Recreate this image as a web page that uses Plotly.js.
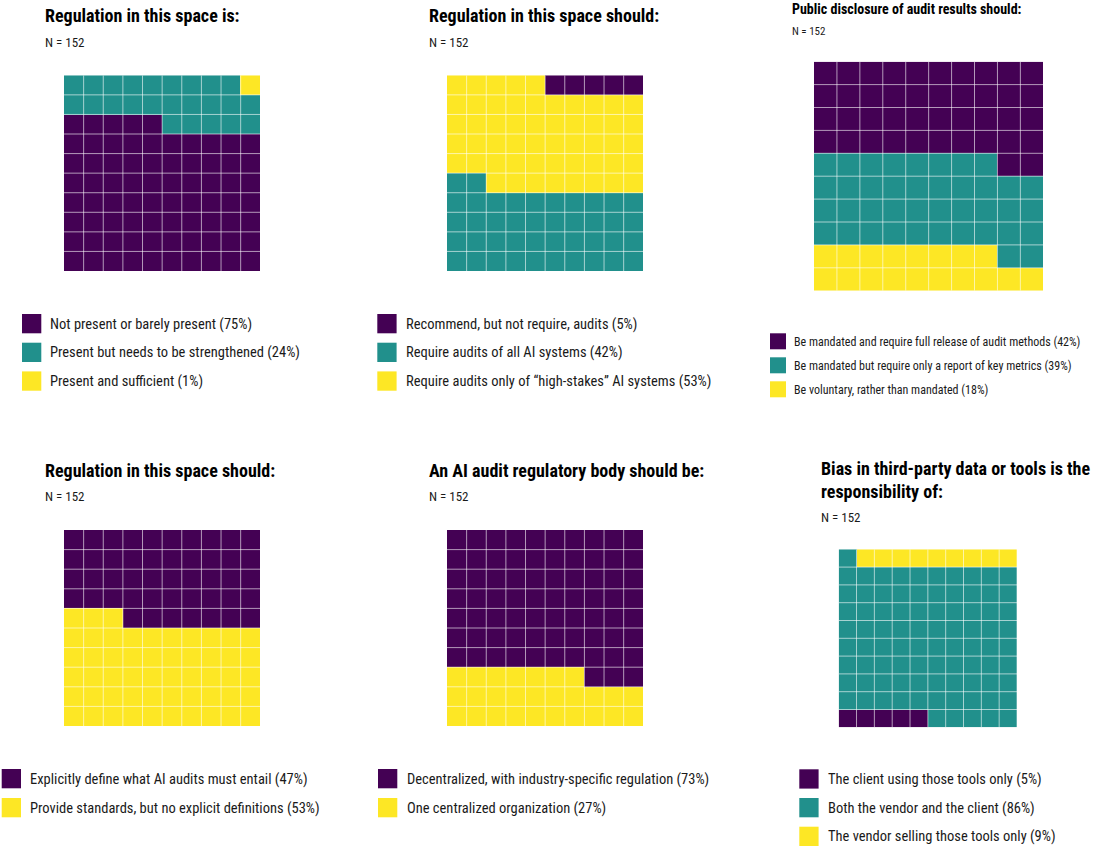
<!DOCTYPE html>
<html>
<head>
<meta charset="utf-8">
<script src="https://cdn.plot.ly/plotly-3.0.1.min.js"></script>
<style>html,body{margin:0;padding:0;background:#fff;}#chart{width:1102px;height:856px;}</style>
</head>
<body>
<div id="chart"></div>
<script>
// ---------------- DATA ----------------
const sampleN = 152;

const title1 = ["Regulation in this space is:"];
const labels1 = ["Not present or barely present", "Present but needs to be strengthened", "Present and sufficient"];
const pct1 = [75, 24, 1];
const cells1 = [75, 24, 1];
const fillOrder1 = [0, 1, 2];
const colorIdx1 = [0, 1, 2];

const title2 = ["Regulation in this space should:"];
const labels2 = ["Recommend, but not require, audits", "Require audits of all AI systems", "Require audits only of \u201chigh-stakes\u201d AI systems"];
const pct2 = [5, 42, 53];
const cells2 = [5, 42, 53];
const fillOrder2 = [1, 2, 0];
const colorIdx2 = [0, 1, 2];

const title3 = ["Public disclosure of audit results should:"];
const labels3 = ["Be mandated and require full release of audit methods", "Be mandated but require only a report of key metrics", "Be voluntary, rather than mandated"];
const pct3 = [42, 39, 18];
const cells3 = [42, 40, 18];
const fillOrder3 = [2, 1, 0];
const colorIdx3 = [0, 1, 2];

const title4 = ["Regulation in this space should:"];
const labels4 = ["Explicitly define what AI audits must entail", "Provide standards, but no explicit definitions"];
const pct4 = [47, 53];
const cells4 = [47, 53];
const fillOrder4 = [1, 0];
const colorIdx4 = [0, 2];

const title5 = ["An AI audit regulatory body should be:"];
const labels5 = ["Decentralized, with industry-specific regulation", "One centralized organization"];
const pct5 = [73, 27];
const cells5 = [73, 27];
const fillOrder5 = [1, 0];
const colorIdx5 = [0, 2];

const title6 = ["Bias in third-party data or tools is the", "responsibility of:"];
const labels6 = ["The client using those tools only", "Both the vendor and the client", "The vendor selling those tools only"];
const pct6 = [5, 86, 9];
const cells6 = [5, 86, 9];
const fillOrder6 = [0, 1, 2];
const colorIdx6 = [0, 1, 2];

const palette = ["#440154", "#21908C", "#FDE725"];

// ---------------- LAYOUT GEOMETRY (pixels) ----------------
const W = 1102, H = 856;
const FONT = "'Roboto Condensed', 'Liberation Sans Narrow', 'DejaVu Sans Condensed', Roboto, sans-serif";

const panels = [
  {title: title1, labels: labels1, pct: pct1, cells: cells1, order: fillOrder1, cidx: colorIdx1,
   grid: [64, 75.3, 260.3, 271], tx: 44, tY: 15.5, nY: 42.5, tSize: 18, nSize: 13,
   lgX: 22, lgY: 314, lgSq: 19.3, lgPitch: 28.7, lgTx: 49.3, lgSize: 14.5},
  {title: title2, labels: labels2, pct: pct2, cells: cells2, order: fillOrder2, cidx: colorIdx2,
   grid: [447, 75.3, 643.3, 271], tx: 427.5, tY: 15.5, nY: 42.5, tSize: 18, nSize: 13,
   lgX: 377.3, lgY: 314, lgSq: 19.3, lgPitch: 28.7, lgTx: 405, lgSize: 14.5},
  {title: title3, labels: labels3, pct: pct3, cells: cells3, order: fillOrder3, cidx: colorIdx3,
   grid: [814, 61.7, 1043.3, 290.7], tx: 790.7, tY: 9, nY: 31.3, tSize: 14, nSize: 11,
   lgX: 770, lgY: 333.3, lgSq: 16, lgPitch: 24, lgTx: 792.7, lgSize: 12},
  {title: title4, labels: labels4, pct: pct4, cells: cells4, order: fillOrder4, cidx: colorIdx4,
   grid: [64, 530, 260.3, 726], tx: 44, tY: 470.3, nY: 496.8, tSize: 18, nSize: 13,
   lgX: 1.7, lgY: 769, lgSq: 19.3, lgPitch: 29, lgTx: 29.3, lgSize: 14.5},
  {title: title5, labels: labels5, pct: pct5, cells: cells5, order: fillOrder5, cidx: colorIdx5,
   grid: [447, 530, 643.3, 726], tx: 427.5, tY: 470.3, nY: 496.8, tSize: 18, nSize: 13,
   lgX: 378, lgY: 769, lgSq: 19.3, lgPitch: 29, lgTx: 406, lgSize: 14.5},
  {title: title6, labels: labels6, pct: pct6, cells: cells6, order: fillOrder6, cidx: colorIdx6,
   grid: [838.7, 549.3, 1017, 727.3], tx: 820, tY: 480, nY: 517.8, tSize: 18, nSize: 13,
   lgX: 799.3, lgY: 769.3, lgSq: 19.3, lgPitch: 28.7, lgTx: 827.3, lgSize: 14.5}
];

const px = x => x / W;
const py = y => 1 - y / H;

function buildZ(cells, order, cidx) {
  const seq = [];
  order.forEach(i => { for (let k = 0; k < cells[i]; k++) seq.push(cidx[i]); });
  const z = [];
  for (let r = 0; r < 10; r++) {
    const row = [];
    for (let c = 0; c < 10; c++) {
      const v = seq[r * 10 + c];
      row.push(v === undefined ? null : v);
    }
    z.push(row);
  }
  return z;
}

const idx = [0,1,2,3,4,5,6,7,8,9];
const traces = [];
const layout = {
  width: W, height: H,
  margin: {l: 0, r: 0, t: 0, b: 0},
  paper_bgcolor: "#ffffff", plot_bgcolor: "#ffffff",
  showlegend: false,
  font: {family: FONT, color: "#1a1a1a"},
  annotations: [], shapes: []
};

panels.forEach((p, k) => {
  const n = k + 1;
  const xa = "x" + (n === 1 ? "" : n), ya = "y" + (n === 1 ? "" : n);
  const xKey = "xaxis" + (n === 1 ? "" : n), yKey = "yaxis" + (n === 1 ? "" : n);
  traces.push({
    type: "heatmap", x: idx, y: idx, z: buildZ(p.cells, p.order, p.cidx),
    xaxis: xa, yaxis: ya, zmin: 0, zmax: 2, showscale: false, hoverinfo: "skip",
    colorscale: [[0, palette[0]], [0.5, palette[1]], [1, palette[2]]]
  });
  const axBase = {range: [-0.5, 9.5], showgrid: false, zeroline: false, showticklabels: false,
                  ticks: "", showline: false, fixedrange: true};
  layout[xKey] = Object.assign({}, axBase, {domain: [px(p.grid[0]), px(p.grid[2])], anchor: ya});
  layout[yKey] = Object.assign({}, axBase, {domain: [py(p.grid[3]), py(p.grid[1])], anchor: xa});

  // cell separators
  for (let g = 0; g < 9; g++) {
    const v = g + 0.5;
    layout.shapes.push({type: "line", xref: xa, yref: ya, x0: v, x1: v, y0: -0.5, y1: 9.5,
      line: {color: "rgba(255,255,255,0.6)", width: 1}, layer: "above"});
    layout.shapes.push({type: "line", xref: xa, yref: ya, x0: -0.5, x1: 9.5, y0: v, y1: v,
      line: {color: "rgba(255,255,255,0.6)", width: 1}, layer: "above"});
  }

  // title
  layout.annotations.push({text: p.title.join("<br>"), xref: "paper", yref: "paper", x: px(p.tx), y: py(p.tY),
    xanchor: "left", yanchor: "middle", align: "left", showarrow: false, borderpad: 0,
    font: {family: FONT, size: p.tSize, color: "#000000", weight: 700}});
  // N
  layout.annotations.push({text: "N = " + sampleN, xref: "paper", yref: "paper", x: px(p.tx), y: py(p.nY),
    xanchor: "left", yanchor: "middle", showarrow: false, borderpad: 0,
    font: {family: FONT, size: p.nSize, color: "#1a1a1a"}});

  // legend
  p.labels.forEach((lab, i) => {
    const y0 = p.lgY + i * p.lgPitch;
    layout.shapes.push({type: "rect", xref: "paper", yref: "paper",
      x0: px(p.lgX), x1: px(p.lgX + p.lgSq), y0: py(y0 + p.lgSq), y1: py(y0),
      fillcolor: palette[p.cidx[i]], line: {width: 0}});
    layout.annotations.push({text: lab + " (" + p.pct[i] + "%)", xref: "paper", yref: "paper",
      x: px(p.lgTx), y: py(y0 + p.lgSq / 2 + 0.5), xanchor: "left", yanchor: "middle", showarrow: false,
      borderpad: 0, font: {family: FONT, size: p.lgSize, color: "#1a1a1a"}});
  });
});

Plotly.newPlot("chart", traces, layout, {staticPlot: true, displayModeBar: false});
</script>
</body>
</html>
